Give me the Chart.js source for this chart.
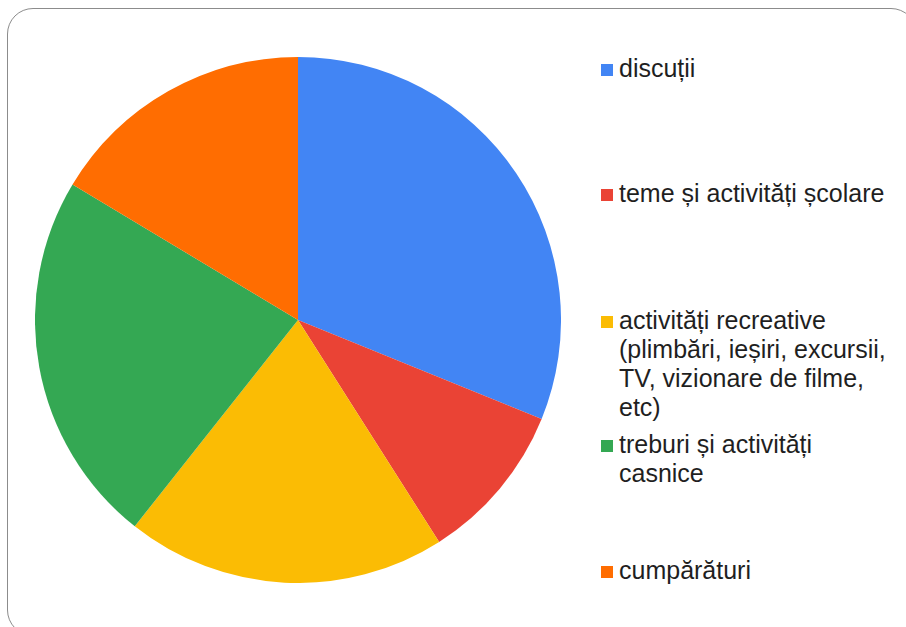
<!DOCTYPE html>
<html lang="ro">

<head>
    <meta charset="UTF-8">
    <title>Activități</title>
    <style>
        body {
            margin: 0;
            width: 906px;
            height: 627px;
            overflow: hidden;
            background: #ffffff;
            font-family: 'Liberation Sans', Arial, sans-serif;
            position: relative;
        }

        .frame {
            position: absolute;
            left: 7px;
            top: 8px;
            width: 910px;
            height: 628px;
            border: 1.5px solid #8c8c8c;
            border-radius: 26px;
            box-sizing: border-box;
        }

        .pie-box {
            position: absolute;
            left: 35px;
            top: 57px;
            width: 526px;
            height: 526px;
        }

        .legend-item {
            position: absolute;
            left: 601px;
            width: 300px;
            font-size: 25px;
            line-height: 29px;
            color: #1f1f1f;
        }

        .legend-item .box {
            position: absolute;
            left: 0;
            top: 10px;
            width: 12px;
            height: 12px;
        }

        .legend-item .text {
            margin-left: 18px;
            white-space: nowrap;
        }
    </style>
</head>

<body>
    <div class="frame"></div>
    <div class="pie-box"><canvas id="pieChart"></canvas></div>
    <div id="legend"></div>

    <script src="https://cdn.jsdelivr.net/npm/chart.js"></script>
    <script>
        // categories (legend lines as shown)
        const categories = [
            ["discuții"],
            ["teme și activități școlare"],
            ["activități recreative", "(plimbări, ieșiri, excursii,", "TV, vizionare de filme,", "etc)"],
            ["treburi și activități", "casnice"],
            ["cumpărături"]
        ];
        // answers per category
        const values = [19, 6, 12, 14, 10];
        const colors = ["#4285f4", "#ea4335", "#fbbc04", "#34a853", "#ff6d01"];

        // legend row tops (layout only)
        const legendTops = [54, 179, 306, 430, 556];

        const legend = document.getElementById("legend");
        categories.forEach((lines, i) => {
            const item = document.createElement("div");
            item.className = "legend-item";
            item.style.top = legendTops[i] + "px";
            const box = document.createElement("div");
            box.className = "box";
            box.style.background = colors[i];
            const text = document.createElement("div");
            text.className = "text";
            text.innerHTML = lines.join("<br>");
            item.appendChild(box);
            item.appendChild(text);
            legend.appendChild(item);
        });

        new Chart(document.getElementById("pieChart"), {
            type: "pie",
            data: {
                labels: categories.map(l => l.join(" ")),
                datasets: [{
                    data: values,
                    backgroundColor: colors,
                    borderWidth: 0
                }]
            },
            options: {
                responsive: true,
                maintainAspectRatio: false,
                animation: false,
                layout: { padding: 0 },
                plugins: {
                    legend: { display: false },
                    tooltip: { enabled: false }
                }
            }
        });
    </script>
</body>

</html>
